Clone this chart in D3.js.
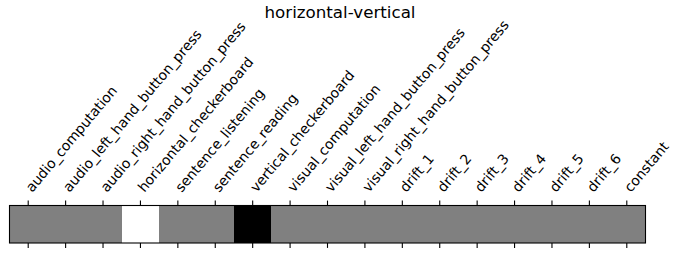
<!DOCTYPE html>
<html>
<head>
<meta charset="utf-8">
<title>horizontal-vertical</title>
<script src="https://cdnjs.cloudflare.com/ajax/libs/d3/7.8.5/d3.min.js"></script>
<style>
  body { margin: 0; background: #fff; }
  text { font-family: "DejaVu Sans", sans-serif; }
</style>
</head>
<body>
<div id="chart"></div>
<script>
// design matrix columns and the contrast weights
var columns = ["audio_computation", "audio_left_hand_button_press", "audio_right_hand_button_press",
  "horizontal_checkerboard", "sentence_listening", "sentence_reading", "vertical_checkerboard",
  "visual_computation", "visual_left_hand_button_press", "visual_right_hand_button_press",
  "drift_1", "drift_2", "drift_3", "drift_4", "drift_5", "drift_6", "constant"];
var weights = [0, 0, 0, 1, 0, 0, -1, 0, 0, 0, 0, 0, 0, 0, 0, 0, 0];
var title = "horizontal-vertical";

var W = 680, H = 270;
var box = {left: 9.5, right: 645.5, top: 205.5, bottom: 243};
var tickLen = 4.9;

var svg = d3.select("#chart").append("svg")
    .attr("width", W)
    .attr("height", H);

var x = d3.scaleBand()
  .domain(columns)
  .range([box.left, box.right])
  .padding(0);

// gray colormap, vmin -1 / vmax 1
var color = d3.scaleLinear()
  .domain([-1, 1])
  .range(["#000000", "#ffffff"]);

svg.append("g")
  .selectAll("rect")
  .data(columns).enter()
  .append("rect")
    .attr("x", function(d) { return x(d); })
    .attr("y", box.top)
    .attr("width", x.bandwidth() + 0.3)
    .attr("height", box.bottom - box.top)
    .attr("fill", function(d, i) { return color(weights[i]); })
    .attr("shape-rendering", "crispEdges");

// frame
svg.append("rect")
  .attr("x", box.left)
  .attr("y", box.top)
  .attr("width", box.right - box.left)
  .attr("height", box.bottom - box.top)
  .attr("fill", "none")
  .attr("stroke", "#000")
  .attr("stroke-width", 1.1);

// ticks on top and bottom
var axTop = svg.append("g")
  .attr("transform", "translate(0," + box.top + ")")
  .call(d3.axisTop(x).tickSize(tickLen).tickFormat(""));
var axBot = svg.append("g")
  .attr("transform", "translate(0," + box.bottom + ")")
  .call(d3.axisBottom(x).tickSize(tickLen).tickFormat(""));
[axTop, axBot].forEach(function(g) {
  g.select(".domain").remove();
  g.selectAll(".tick line").attr("stroke", "#000").attr("stroke-width", 1.1);
});

// rotated column names above the matrix
svg.append("g")
  .selectAll("text")
  .data(columns).enter()
  .append("text")
    .attr("transform", function(d) {
      return "translate(" + (x(d) + x.bandwidth() / 2 + 4) + ",193) rotate(-50)";
    })
    .attr("font-size", "13.9px")
    .attr("fill", "#000")
    .text(function(d) { return d; });

svg.append("text")
  .attr("x", W / 2)
  .attr("y", 17.5)
  .attr("text-anchor", "middle")
  .attr("font-size", "16.7px")
  .attr("fill", "#000")
  .text(title);
</script>
</body>
</html>
